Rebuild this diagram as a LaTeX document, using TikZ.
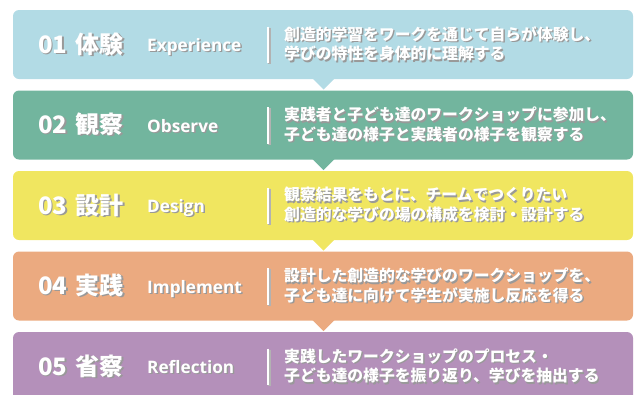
\documentclass[tikz,border=0pt]{standalone}
\usepackage{fontspec}
\setmainfont{Noto Sans CJK JP}
\newfontfamily\latinfont{Open Sans}
\definecolor{cA}{HTML}{B2DBE5}
\definecolor{cB}{HTML}{72B59E}
\definecolor{cC}{HTML}{F0E660}
\definecolor{cD}{HTML}{EBAA80}
\definecolor{cE}{HTML}{B490BA}
\newcommand{\shd}[1]{\makebox[0pt][l]{\raisebox{-1.4pt}{\hspace{1.4pt}\textcolor{black!40}{#1}}}#1}
\tikzset{
  panel/.style={rounded corners=6pt},
  headtxt/.style={anchor=base west, inner sep=0pt, text=white, font=\fontsize{24}{26}\selectfont\bfseries},
  engtxt/.style={anchor=base west, inner sep=0pt, text=white, font=\latinfont\bfseries\fontsize{17.2}{19}\selectfont},
  desctxt/.style={anchor=west, inner sep=0pt, text=white, align=left, font=\fontsize{15.8}{19.5}\selectfont\bfseries},
  barline/.style={line width=2.6pt, white},
  barshadow/.style={line width=2.6pt, black!30},
}
\begin{document}
\begin{tikzpicture}[x=1pt,y=-1pt]
\useasboundingbox (0,0) rectangle (635,394);
\clip (0,0) rectangle (635,394);
\foreach \i/\t/\c/\num/\jp/\en/\la/\lb in {
 1/10/cA/01/体験/Experience/創造的学習をワークを通じて自らが体験し、/学びの特性を身体的に理解する,
 2/90.5/cB/02/観察/Observe/実践者と子ども達のワークショップに参加し、/子ども達の様子と実践者の様子を観察する,
 3/171/cC/03/設計/Design/観察結果をもとに、チームでつくりたい/創造的な学びの場の構成を検討・設計する,
 4/251.5/cD/04/実践/Implement/設計した創造的な学びのワークショップを、/子ども達に向けて学生が実施し反応を得る,
 5/332/cE/05/省察/Reflection/実践したワークショップのプロセス・/子ども達の様子を振り返り、学びを抽出する}{
  \fill[panel, \c] (13,\t) rectangle (633,\t+69);
  \ifnum\i<5
    \fill[\c] (312,\t+68) -- (335,\t+68) -- (323.5,\t+79.5) -- cycle;
  \fi
  \node[headtxt] (h\i) at (38,\t+43) {\shd{\num\hspace{0.35em}\jp}};
  \node[engtxt] (e\i) at (147,\t+41.5) {\shd{\en}};
  \draw[barshadow] (269.3,\t+17.5) -- (269.3,\t+54);
  \draw[barline] (268,\t+16.5) -- (268,\t+53);
  \node[desctxt] (d\i) at (284,\t+34.5) {\shd{\la}\\\shd{\lb}};
}
\end{tikzpicture}
\end{document}
